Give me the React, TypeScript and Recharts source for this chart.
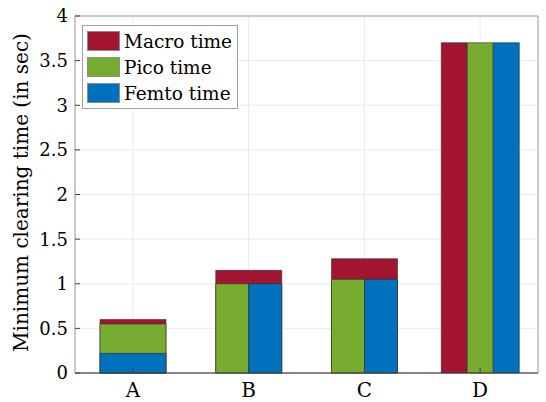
import { ComposedChart, Bar, XAxis, YAxis, CartesianGrid, Legend, ReferenceArea } from 'recharts';

const categories = ['A', 'B', 'C', 'D'];
const macroTime = [0.6, 1.15, 1.28, 3.7];
const picoTime = [0.55, 1.0, 1.05, 3.7];
const femtoTime = [0.22, 1.0, 1.05, 3.7];
// how each group is drawn: full width overlapping, pico/femto split under a wide macro bar, or side by side
const groupStyle = ['overlap', 'split', 'split', 'grouped'];
const yTicks = [0, 0.5, 1, 1.5, 2, 2.5, 3, 3.5, 4];

const series = [
    { key: 'macro', name: 'Macro time', color: '#A2142F' },
    { key: 'pico', name: 'Pico time', color: '#77AC30' },
    { key: 'femto', name: 'Femto time', color: '#0072BD' },
];

const FONT = '"DejaVu Serif", serif';
const EDGE = '#2b2b2b';

const pick = (values: number[], i: number, style: string) => (groupStyle[i] === style ? values[i] : null);

const chartData = categories.map((name, i) => ({
    name,
    macroWide: groupStyle[i] !== 'grouped' ? macroTime[i] : null,
    picoWide: pick(picoTime, i, 'overlap'),
    femtoWide: pick(femtoTime, i, 'overlap'),
    picoHalf: pick(picoTime, i, 'split'),
    femtoHalf: pick(femtoTime, i, 'split'),
    macroThird: pick(macroTime, i, 'grouped'),
    picoThird: pick(picoTime, i, 'grouped'),
    femtoThird: pick(femtoTime, i, 'grouped'),
}));

function LegendBox() {
    return (
        <div
            style={{
                width: 150,
                border: '1px solid #a0a0a0',
                background: '#fff',
                padding: '2px 0 2px 4px',
                fontFamily: FONT,
                fontSize: 18.5,
                color: '#000',
            }}
        >
            {series.map((s) => (
                <div key={s.key} style={{ display: 'flex', alignItems: 'center', height: 26 }}>
                    <span
                        style={{
                            display: 'inline-block',
                            width: 31,
                            height: 18,
                            background: s.color,
                            border: '1px solid #8c8c8c',
                            marginRight: 4,
                        }}
                    />
                    {s.name}
                </div>
            ))}
        </div>
    );
}

function YLabel({ viewBox }: any) {
    const x = 28;
    const y = viewBox.y + viewBox.height / 2 - 2;
    return (
        <text
            x={x}
            y={y}
            transform={`rotate(-90, ${x}, ${y})`}
            textAnchor="middle"
            fontFamily={FONT}
            fontSize={20}
            fill="#000"
        >
            Minimum clearing time (in sec)
        </text>
    );
}

export default function App() {
    const barProps = { yAxisId: 'left', stroke: EDGE, strokeWidth: 0.6, isAnimationActive: false };
    const hiddenAxis = (id: string) => <XAxis xAxisId={id} dataKey="name" orientation="top" height={0} hide />;

    return (
        <div style={{ position: 'absolute', left: 0, top: 0, background: '#fff' }}>
            <ComposedChart
                width={546}
                height={402}
                data={chartData}
                barGap={0}
                margin={{ top: 16, right: 7, bottom: 0, left: 0 }}
            >
                <CartesianGrid xAxisId="main" yAxisId="left" stroke="#ebebeb" />

                <XAxis
                    xAxisId="main"
                    dataKey="name"
                    height={29}
                    tickSize={-5}
                    tickMargin={15}
                    axisLine={{ stroke: '#404040' }}
                    tickLine={{ stroke: '#404040' }}
                    tick={{ fill: '#000', fontSize: 20, fontFamily: FONT }}
                />
                <XAxis
                    xAxisId="top"
                    dataKey="name"
                    orientation="top"
                    height={0}
                    tick={false}
                    tickSize={-5}
                    axisLine={false}
                    tickLine={{ stroke: '#808080' }}
                />
                {hiddenAxis('wideP')}
                {hiddenAxis('wideF')}
                {hiddenAxis('half')}
                {hiddenAxis('third')}

                <YAxis
                    yAxisId="left"
                    width={75}
                    domain={[0, 4]}
                    ticks={yTicks}
                    tickSize={-5}
                    tickMargin={12}
                    axisLine={{ stroke: '#c8c8c8' }}
                    tickLine={{ stroke: '#404040' }}
                    tick={{ fill: '#000', fontSize: 18, fontFamily: FONT }}
                    label={<YLabel />}
                />
                <YAxis
                    yAxisId="right"
                    orientation="right"
                    width={1}
                    domain={[0, 4]}
                    ticks={yTicks}
                    tick={false}
                    tickSize={-5}
                    axisLine={false}
                    tickLine={{ stroke: '#808080' }}
                />

                <ReferenceArea xAxisId="main" yAxisId="left" y1={0} y2={4} fill="none" stroke="#a0a0a0" />

                {/* wide macro bar behind A, B, C */}
                <Bar {...barProps} xAxisId="main" dataKey="macroWide" name="Macro time" fill={series[0].color} barSize={66} />
                {/* A: overlapping full-width bars */}
                <Bar {...barProps} xAxisId="wideP" dataKey="picoWide" name="Pico time" fill={series[1].color} barSize={66} />
                <Bar {...barProps} xAxisId="wideF" dataKey="femtoWide" name="Femto time" fill={series[2].color} barSize={66} />
                {/* B, C: pico and femto split in halves */}
                <Bar {...barProps} xAxisId="half" dataKey="picoHalf" fill={series[1].color} barSize={33} />
                <Bar {...barProps} xAxisId="half" dataKey="femtoHalf" fill={series[2].color} barSize={33} />
                {/* D: three bars side by side */}
                <Bar {...barProps} xAxisId="third" dataKey="macroThird" fill={series[0].color} barSize={26} />
                <Bar {...barProps} xAxisId="third" dataKey="picoThird" fill={series[1].color} barSize={26} />
                <Bar {...barProps} xAxisId="third" dataKey="femtoThird" fill={series[2].color} barSize={26} />

                <Legend
                    layout="vertical"
                    verticalAlign="middle"
                    align="center"
                    content={<LegendBox />}
                    wrapperStyle={{ position: 'absolute', left: 82, top: 25, width: 156 }}
                />
            </ComposedChart>
        </div>
    );
}
